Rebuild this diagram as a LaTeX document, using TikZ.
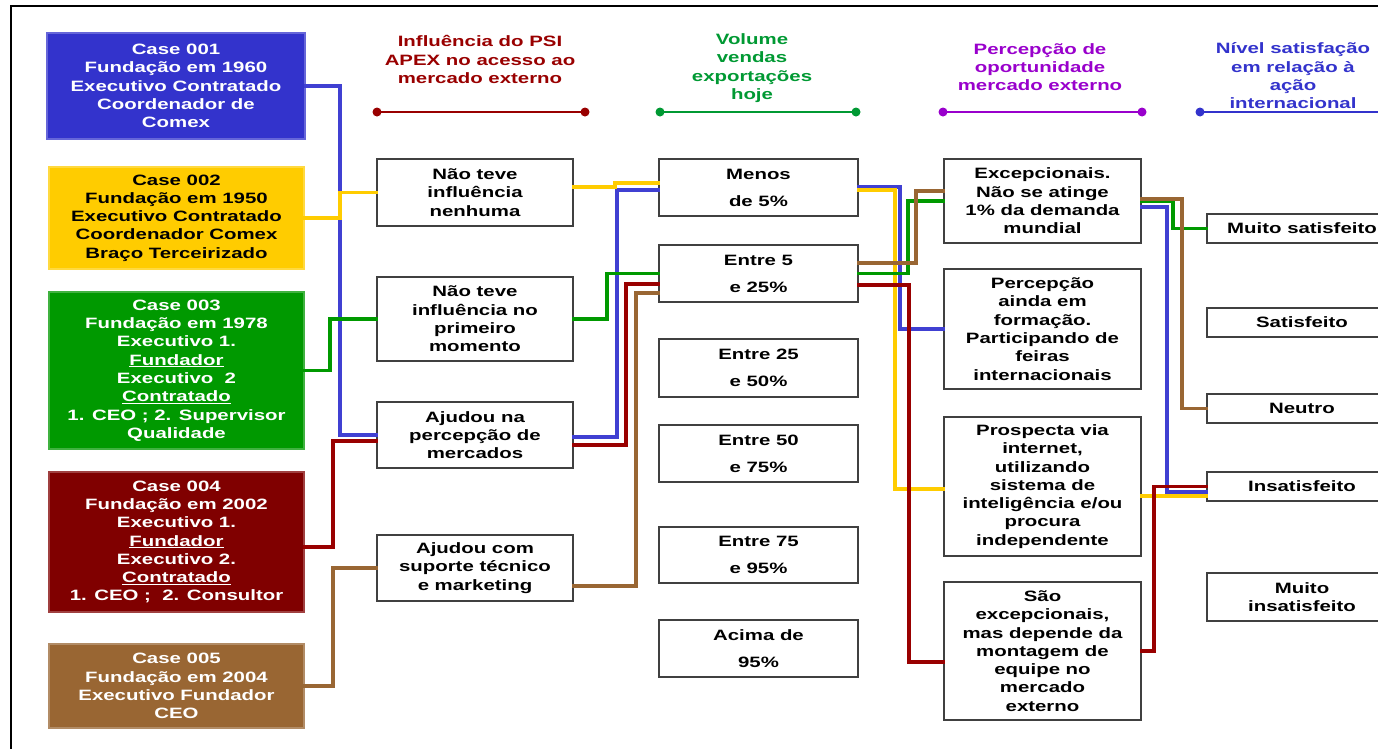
\documentclass[tikz,border=0pt]{standalone}
\usepackage{fontspec}
\setmainfont{Liberation Sans}[FakeStretch=1.36]

\definecolor{casebl}{RGB}{51,51,204}
\definecolor{caseyl}{RGB}{255,204,0}
\definecolor{casegr}{RGB}{0,153,0}
\definecolor{caserd}{RGB}{128,0,0}
\definecolor{casebr}{RGB}{153,102,51}
\definecolor{lnbl}{RGB}{64,64,210}
\definecolor{lnrd}{RGB}{153,0,0}
\definecolor{hdrd}{RGB}{153,0,0}
\definecolor{hdgr}{RGB}{0,153,51}
\definecolor{hdpu}{RGB}{153,0,204}
\definecolor{hdbl}{RGB}{51,51,204}

\newcommand{\boxfont}{\bfseries\fontsize{15}{18.3}\selectfont}

\tikzset{
  box/.style={draw=black!75, line width=1.2pt, fill=white, inner sep=0pt,
    align=center, font=\boxfont},
  size/.style 2 args={minimum width=#1pt, minimum height=#2pt},
  casebox/.style={box, fill=#1, draw=#1!75!white, text=white, line width=1.5pt},
  head/.style={inner sep=0pt, align=center, font=\boxfont},
  conn/.style={line width=3.3pt, line cap=rect},
}

\begin{document}
\begin{tikzpicture}[x=1pt, y=-1pt]
  \useasboundingbox (0,0) rectangle (1378,748);
  \clip (0,0) rectangle (1378,748);
  \fill[white] (0,0) rectangle (1378,748);
  \draw[line width=2.5pt] (11,760) -- (11,6) -- (1400,6);

  % cabecalhos
  \node (hinf) at (480,59.5) [head, text=hdrd] {Influência do PSI\\APEX no acesso ao\\mercado externo};
  \node (hvol) at (752,68) [head, text=hdgr] {Volume\\vendas\\exportações\\hoje};
  \node (hper) at (1040,67) [head, text=hdpu] {Percepção de\\oportunidade\\mercado externo};
  \node (hniv) at (1293,76) [head, text=hdbl] {Nível satisfação\\em relação à\\ação\\internacional};

  \draw[hdrd, line width=1.2pt] (377,112) -- (585,112);
  \fill[hdrd] (377,112) circle (4.5pt) (585,112) circle (4.5pt);
  \draw[hdgr, line width=1.2pt] (660,112) -- (856,112);
  \fill[hdgr] (660,112) circle (4.5pt) (856,112) circle (4.5pt);
  \draw[hdpu, line width=1.2pt] (943,112) -- (1142,112);
  \fill[hdpu] (943,112) circle (4.5pt) (1142,112) circle (4.5pt);
  \draw[hdbl, line width=1.2pt] (1200,112) -- (1400,112);
  \fill[hdbl] (1200,112) circle (4.5pt);

  % cases
  \node (c1) at (176,86) [casebox=casebl, size={258}{106}] {Case 001\\Fundação em 1960\\Executivo Contratado\\Coordenador de\\Comex};
  \node (c2) at (176.5,218) [casebox=caseyl, text=black, size={255}{102}] {Case 002\\Fundação em 1950\\Executivo Contratado\\Coordenador Comex\\Braço Terceirizado};
  \node (c3) at (176.5,370.5) [casebox=casegr, size={255}{157}] {Case 003\\Fundação em 1978\\Executivo 1.\\\underline{Fundador}\\Executivo\ \ 2\\\underline{Contratado}\\1. CEO ; 2. Supervisor\\Qualidade};
  \node (c4) at (176.5,542) [casebox=caserd, size={255}{140}] {Case 004\\Fundação em 2002\\Executivo 1.\\\underline{Fundador}\\Executivo 2.\\\underline{Contratado}\\1. CEO ;\ \ 2. Consultor};
  \node (c5) at (176.5,686) [casebox=casebr, size={255}{84}] {Case 005\\Fundação em 2004\\Executivo Fundador\\CEO};

  % influencia
  \node (b1) at (475,192.5) [box, size={196}{67}] {Não teve\\influência\\nenhuma};
  \node (b2) at (475,319) [box, size={196}{84}] {Não teve\\influência no\\primeiro\\momento};
  \node (b3) at (475,435) [box, size={196}{66}] {Ajudou na\\percepção de\\mercados};
  \node (b4) at (475,568) [box, size={196}{66}] {Ajudou com\\suporte técnico\\e marketing};

  % volume
  \node (v1) at (758.5,187.5) [box, size={199}{57}] {Menos\\[8.7pt]de 5\%};
  \node (v2) at (758.5,273.5) [box, size={199}{57}] {Entre 5\\[8.7pt]e 25\%};
  \node (v3) at (758.5,368) [box, size={199}{58}] {Entre 25\\[8.7pt]e 50\%};
  \node (v4) at (758.5,453.5) [box, size={199}{57}] {Entre 50\\[8.7pt]e 75\%};
  \node (v5) at (758.5,555) [box, size={199}{56}] {Entre 75\\[8.7pt]e 95\%};
  \node (v6) at (758.5,648.5) [box, size={199}{57}] {Acima de\\[8.7pt]95\%};

  % percepcao
  \node (p1) at (1042.5,201) [box, size={197}{84}] {Excepcionais.\\Não se atinge\\1\% da demanda\\mundial};
  \node (p2) at (1042.5,329) [box, size={197}{120}] {Percepção\\ainda em\\formação.\\Participando de\\feiras\\internacionais};
  \node (p3) at (1042.5,486.5) [box, size={197}{139}] {Prospecta via\\internet,\\utilizando\\sistema de\\inteligência e/ou\\procura\\independente};
  \node (p4) at (1042.5,651) [box, size={197}{138}] {São\\excepcionais,\\mas depende da\\montagem de\\equipe no\\mercado\\externo};

  % satisfacao
  \node (s1) at (1302,228.5) [box, size={190}{29}] {Muito satisfeito};
  \node (s2) at (1302,322.5) [box, size={190}{29}] {Satisfeito};
  \node (s3) at (1302,408.5) [box, size={190}{29}] {Neutro};
  \node (s4) at (1302,486.5) [box, size={190}{29}] {Insatisfeito};
  \node (s5) at (1302,597) [box, size={190}{48}] {Muito\\insatisfeito};

  % case 001
  \draw[conn, lnbl] (c1.east) -| (340,435) -- (b3.west);
  \draw[conn, lnbl] ([yshift=-2pt]b3.east) -| (617,190) -- ([yshift=-2.5pt]v1.west);
  \draw[conn, lnbl] ([yshift=0.5pt]v1.east) -| (900,329) -- (p2.west);
  \draw[conn, lnbl] ([yshift=-6pt]p1.east) -| (1167,492) -- ([yshift=-5.5pt]s4.west);

  % case 002
  \draw[conn, caseyl] (c2.east) -| (340,192.5) -- (b1.west);
  \draw[conn, caseyl] ([yshift=5.5pt]b1.east) -| (615,183) -- ([yshift=4.5pt]v1.west);
  \draw[conn, caseyl] ([yshift=-2.5pt]v1.east) -| (895,489) -- ([yshift=-2.5pt]p3.west);
  \draw[conn, caseyl] ([yshift=-9.5pt]p3.east) -- ([yshift=-9.5pt]s4.west);

  % case 003
  \draw[conn, casegr] (c3.east) -| (330,319) -- (b2.west);
  \draw[conn, casegr] (b2.east) -| (607,273.5) -- (v2.west);
  \draw[conn, casegr] (v2.east) -| (908,201) -- (p1.west);
  \draw[conn, casegr] (p1.east) -| (1173,228.5) -- (s1.west);

  % case 004
  \draw[conn, lnrd] ([yshift=-5pt]c4.east) -| (333,441) -- ([yshift=-6pt]b3.west);
  \draw[conn, lnrd] ([yshift=-10pt]b3.east) -| (626,284) -- ([yshift=-10.5pt]v2.west);
  \draw[conn, lnrd] ([yshift=-11.5pt]v2.east) -| (909,662) -- ([yshift=-11pt]p4.west);
  \draw[conn, lnrd] (p4.east) -| (1154,486.5) -- (s4.west);

  % case 005
  \draw[conn, casebr] (c5.east) -| (333,568) -- (b4.west);
  \draw[conn, casebr] ([yshift=-18pt]b4.east) -| (636,293) -- ([yshift=-19.5pt]v2.west);
  \draw[conn, casebr] ([yshift=10.5pt]v2.east) -| (916,191) -- ([yshift=10pt]p1.west);
  \draw[conn, casebr] ([yshift=2pt]p1.east) -| (1182,408.5) -- (s3.west);
\end{tikzpicture}
\end{document}
